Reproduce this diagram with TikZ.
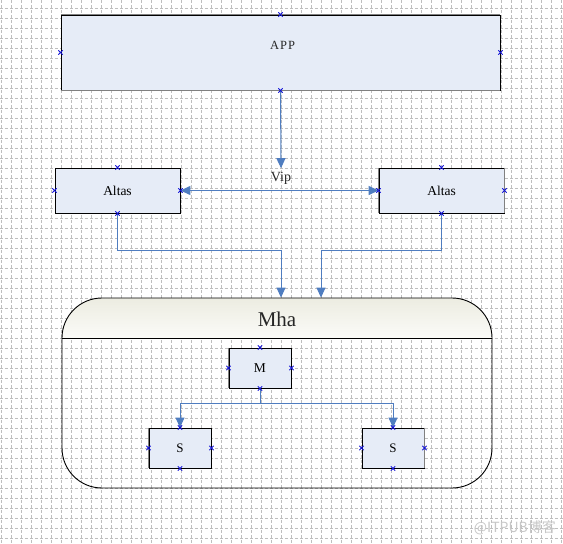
\documentclass[tikz,border=0pt]{standalone}
\usepackage{fontspec}
\setmainfont{Liberation Serif}
\newfontfamily\cjkfont{Noto Sans CJK SC}
\usetikzlibrary{arrows.meta,calc}
\definecolor{boxfill}{RGB}{230,236,247}
\definecolor{connc}{RGB}{79,125,192}
\definecolor{gridc}{RGB}{190,190,190}
\definecolor{markc}{RGB}{20,20,215}
\definecolor{hdrtop}{RGB}{236,236,225}
\definecolor{hdrbot}{RGB}{251,251,248}
\tikzset{
  box/.style={draw=black, line width=0.9pt, fill=boxfill, inner sep=0pt},
  txt/.style={inner sep=0pt, text=black!85},
  cline/.style={draw=connc, line width=1pt, -{Triangle[length=10pt,width=9pt]}},
  gridline/.style={draw=gridc, line width=0.7pt, dash pattern=on 3pt off 2pt},
  grayedge/.style={draw=black!50, line width=1.6pt},
  pics/cpx/.style={code={\draw[markc, line width=0.8pt] (-2.2,-2.2) -- (2.2,2.2) (-2.2,2.2) -- (2.2,-2.2);}}
}
\begin{document}
\begin{tikzpicture}[x=1pt,y=-1pt]
\useasboundingbox (0,0) rectangle (563,544);
\fill[white] (0,0) rectangle (563,544);
% grid
\foreach \x in {1.7,11.7,...,561.7} \draw[gridline] (\x,0) -- (\x,544);
\foreach \y in {8,18,...,538} \draw[gridline] (0,\y) -- (563,\y);

% Mha container header
\begin{scope}
  \clip[rounded corners=40pt] (62,298) rectangle (492,488);
  \shade[top color=hdrtop, bottom color=hdrbot] (62,298) rectangle (492,338);
\end{scope}
\node[draw=black, line width=0.9pt, rounded corners=40pt, minimum width=430pt, minimum height=190pt, inner sep=0pt] (mha) at (277,393) {};
\draw[black, line width=0.9pt] (mha.west |- 0,338) -- (mha.east |- 0,338);
\node[txt, font=\fontsize{21}{24}\selectfont] (mhalabel) at (277,319) {Mha};

% boxes
\node[box, minimum width=439pt, minimum height=75pt] (app) at (280.5,52.5) {};
\node[txt, font=\fontsize{12.5}{14}\selectfont\addfontfeatures{LetterSpace=8}] (applabel) at (282.5,45.5) {APP};
\node[box, minimum width=125pt, minimum height=45pt, font=\fontsize{13.5}{16}\selectfont] (altasL) at (117.5,190.5) {Altas};
\node[box, minimum width=125pt, minimum height=45pt, font=\fontsize{13.5}{16}\selectfont] (altasR) at (441.5,190.5) {Altas};
\node[box, minimum width=62pt, minimum height=40pt, font=\fontsize{13.5}{16}\selectfont] (mbox) at (260,368) {M};
\node[box, minimum width=62pt, minimum height=40pt, font=\fontsize{13}{16}\selectfont] (sL) at (180,448) {S};
\node[box, minimum width=62pt, minimum height=40pt, font=\fontsize{13}{16}\selectfont] (sR) at (393,448) {S};

% gray edges
\draw[grayedge] (app.north west) -- (app.north east);
\draw[grayedge] (app.south west) -- (app.south east);
\draw[grayedge] (altasR.north west) -- (altasR.south west);
\draw[grayedge] (altasR.north east) -- (altasR.south east);
\draw[grayedge] (mbox.north west) -- (mbox.south west);
\draw[grayedge] (sL.north west) -- (sL.south west);
\draw[grayedge] (sR.north east) -- (sR.south east);

% Vip label
\node[txt, font=\fontsize{14}{16}\selectfont] (vip) at (281,178.5) {Vip};

% connectors
\draw[cline] (app.south) -- ([yshift=4pt]vip.north);
\draw[draw=connc, line width=1.4pt, {Triangle[length=10pt,width=9pt]}-{Triangle[length=10pt,width=9pt]}] (altasL.east) -- (altasR.west);
\coordinate (inL) at ($(mha.north)+(4,0)$);
\coordinate (inR) at ($(mha.north)+(44,0)$);
\draw[cline] (altasL.south) -- ++(0,37) -| (inL);
\draw[cline] (altasR.south) -- ++(0,37) -| (inR);
\draw[cline] (mbox.south) -- ++(0,15) -| (sL.north);
\draw[cline] (mbox.south) -- ++(0,15) -| (sR.north);

% connection point markers
\foreach \n in {app,altasL,altasR,mbox,sL,sR}
  \foreach \a in {north,south,east,west}
    \pic at (\n.\a) {cpx};

% watermark
\node[inner sep=0pt, anchor=east, text=black!22, font=\cjkfont\fontsize{14}{16}\selectfont] (wm) at (556,528) {@ITPUB博客};
\end{tikzpicture}
\end{document}
